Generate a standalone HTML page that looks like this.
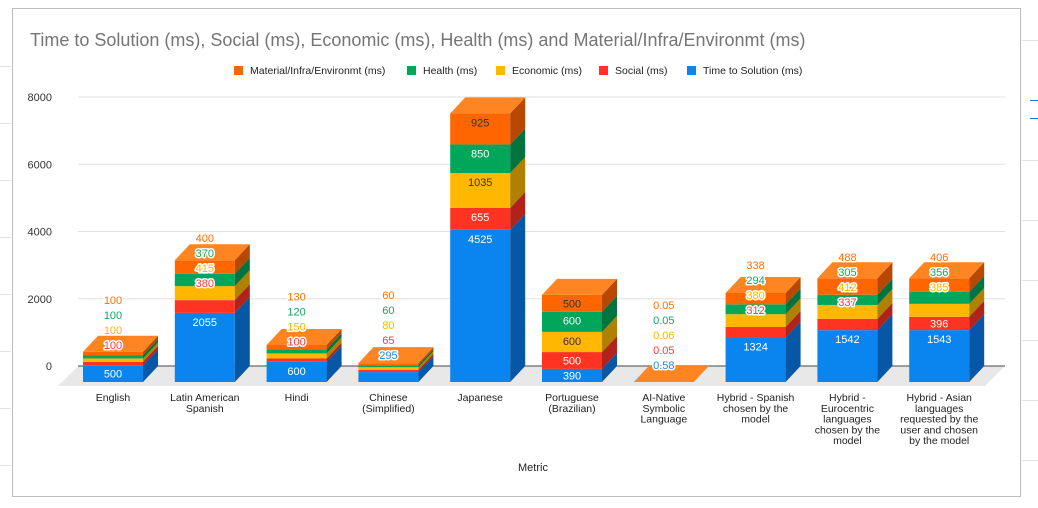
<!DOCTYPE html>
<html><head><meta charset="utf-8">
<style>
html,body{margin:0;padding:0;background:#fff;}
body{width:1038px;height:503px;overflow:hidden;position:relative;font-family:"Liberation Sans",sans-serif;}
svg text{font-family:"Liberation Sans",sans-serif;}
</style></head>
<body>
<svg id="chart" width="1038" height="503" viewBox="0 0 1038 503" xmlns="http://www.w3.org/2000/svg">
  <rect x="0" y="0" width="1038" height="503" fill="#fff"/>
  <g stroke="#e2e2e2" stroke-width="1">
    <line x1="0" y1="66.5" x2="11" y2="66.5"/><line x1="0" y1="123.5" x2="11" y2="123.5"/><line x1="0" y1="180.5" x2="11" y2="180.5"/><line x1="0" y1="237.5" x2="11" y2="237.5"/><line x1="0" y1="294.5" x2="11" y2="294.5"/><line x1="0" y1="351.5" x2="11" y2="351.5"/><line x1="0" y1="408.5" x2="11" y2="408.5"/><line x1="0" y1="465.5" x2="11" y2="465.5"/>
    <line x1="1022" y1="40.5" x2="1038" y2="40.5"/><line x1="1022" y1="160.5" x2="1038" y2="160.5"/><line x1="1022" y1="220.5" x2="1038" y2="220.5"/><line x1="1022" y1="280.5" x2="1038" y2="280.5"/><line x1="1022" y1="340.5" x2="1038" y2="340.5"/><line x1="1022" y1="400.5" x2="1038" y2="400.5"/><line x1="1022" y1="460.5" x2="1038" y2="460.5"/>
  </g>
  <line x1="1030" y1="100.5" x2="1038" y2="100.5" stroke="#1a73e8" stroke-width="1"/>
  <line x1="1030" y1="118.5" x2="1038" y2="118.5" stroke="#1a73e8" stroke-width="1"/>
  <rect x="12.5" y="8.5" width="1008" height="488" fill="#fff" stroke="#bdbdbd" stroke-width="1"/>
  <text x="30" y="46" font-size="18" fill="#757575">Time to Solution (ms), Social (ms), Economic (ms), Health (ms) and Material/Infra/Environmt (ms)</text>
  <g id="legend"></g>
  <g id="grid"></g>
  <polygon points="78,366 1005,366 985,386 58,386" fill="#e8e8e8"/>
  <line x1="78" y1="366" x2="1005" y2="366" stroke="#444" stroke-width="1"/>
  <g id="bars"></g>
  <g id="labels"></g>
  <g id="xlabels"></g>
  <text x="533" y="471" font-size="11" fill="#222" text-anchor="middle">Metric</text>
</svg>
<script>
const categories = [
  ["English"],
  ["Latin American","Spanish"],
  ["Hindi"],
  ["Chinese","(Simplified)"],
  ["Japanese"],
  ["Portuguese","(Brazilian)"],
  ["AI-Native","Symbolic","Language"],
  ["Hybrid - Spanish","chosen by the","model"],
  ["Hybrid -","Eurocentric","languages","chosen by the","model"],
  ["Hybrid - Asian","languages","requested by the","user and chosen","by the model"]
];
const timeToSolution = [500, 2055, 600, 295, 4525, 390, 0.58, 1324, 1542, 1543];
const social = [100, 380, 100, 65, 655, 500, 0.05, 312, 337, 396];
const economic = [100, 415, 150, 80, 1035, 600, 0.06, 380, 412, 385];
const health = [100, 370, 120, 60, 850, 600, 0.05, 294, 305, 356];
const material = [100, 400, 130, 60, 925, 500, 0.05, 338, 488, 406];
const yTicks = [0, 2000, 4000, 6000, 8000];
const seriesNames = ["Time to Solution (ms)","Social (ms)","Economic (ms)","Health (ms)","Material/Infra/Environmt (ms)"];

const NS = "http://www.w3.org/2000/svg";
const series = [timeToSolution, social, economic, health, material];
const front = ["#0a85f0","#ff3322","#ffb700","#00a65a","#ff6600"];
const side  = ["#0657a6","#b0221a","#b08000","#00733f","#b84700"];
const topc  = ["#3d9ff4","#ff6655","#ffca44","#33b87b","#ff8522"];
const txtc  = ["#1a8af0","#ff3b30","#ffb300","#10a860","#ff6d00"];
const inner = ["#fff","#fff","#333","#fff","#333"];
const sc = 269/8000;
const base = 382, DX = 15, DY = 16, W = 60;
function yv(v){ return base - v*sc; }
function xc(i){ return 113 + i*91.8; }
function mk(tag, attrs, parent){ const e=document.createElementNS(NS,tag); for(const k in attrs) e.setAttribute(k, attrs[k]); parent.appendChild(e); return e; }

const grid = document.getElementById("grid");
yTicks.forEach(t=>{
  const y = 366 - t*sc;
  if(t>0){
    const l = mk("line",{x1:78,y1:y,x2:1005,y2:y,stroke:"#e0e0e0","stroke-width":1},grid);
    
    
  }
  const tx = mk("text",{x:52,y:y+4,"font-size":11,fill:"#333","text-anchor":"end"},grid);
  tx.textContent = t;
  
  
});

const legend = document.getElementById("legend");
const legX = [234, 407, 496, 599, 687];
[4,3,2,1,0].forEach((s,k)=>{
  const g = mk("g",{},legend);
  
  
  mk("rect",{x:legX[k],y:66,width:9,height:9,fill:front[s]},g);
  const t = mk("text",{x:legX[k]+16,y:74,"font-size":10.5,fill:"#222"},g);
  t.textContent = seriesNames[s];
});

const bars = document.getElementById("bars");
const labels = document.getElementById("labels");
const xl = document.getElementById("xlabels");
categories.forEach((cat,i)=>{
  const x0 = xc(i) - W/2, x1 = x0 + W;
  const g = mk("g",{},bars);
  
  
  let cum = 0, prevLabel = Infinity, outside = false;
  series.forEach((arr,s)=>{
    const v = arr[i];
    const yb = yv(cum), yt = yv(cum+v);
    const h = yb - yt;
    const f = mk("rect",{x:x0,y:yt,width:W,height:h,fill:front[s]},g);
    
    
    mk("polygon",{points:`${x1},${yb} ${x1+DX},${yb-DY} ${x1+DX},${yt-DY} ${x1},${yt}`,fill:side[s]},g);
    if(!(h > 13.0)) outside = true;
    let ly;
    if(!outside) ly = Math.min(yt+9, (yt+yb)/2, prevLabel-15);
    else ly = Math.min(yt-17, prevLabel-15);
    prevLabel = ly;
    const t = mk("text",{x:xc(i),y:ly+4,"font-size":11,"text-anchor":"middle"},labels);
    t.textContent = v;
    
    
    if(!outside){ t.setAttribute("fill", inner[s]); }
    else { t.setAttribute("fill", txtc[s]); t.setAttribute("stroke","#fff"); t.setAttribute("stroke-width","3"); t.setAttribute("paint-order","stroke"); t.setAttribute("stroke-linejoin","round"); }
    cum += v;
  });
  const yt = yv(cum);
  const tp = mk("polygon",{points:`${x0},${yt} ${x1},${yt} ${x1+DX},${yt-DY} ${x0+DX},${yt-DY}`,fill:topc[4]},g);
  
  
  const tx = mk("text",{x:xc(i),y:401,"font-size":10.5,fill:"#222","text-anchor":"middle"},xl);
  
  
  cat.forEach((line,j)=>{ const ts = mk("tspan",{x:xc(i),dy:j?10.8:0},tx); ts.textContent=line; });
});
</script>
</body></html>
